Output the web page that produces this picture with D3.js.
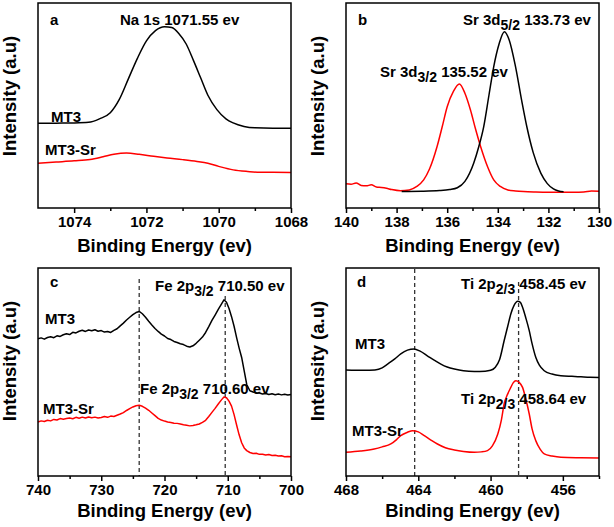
<!DOCTYPE html>
<html><head><meta charset="utf-8">
<script src="https://cdn.jsdelivr.net/npm/d3@7"></script>
<style>
html,body{margin:0;padding:0;background:#fff;}
svg text{font-family:"Liberation Sans",Arial,sans-serif;font-weight:bold;fill:#000;}
</style></head>
<body><svg id="c" width="614" height="527"></svg>
<script>
// ---------- data (binding energy in eV, intensity in arbitrary units 0-100) ----------
const naE_MT3 = [1075,1074.5,1074,1073.6,1073.3,1073.0,1072.75,1072.5,1072.25,1072.0,1071.75,1071.5,1071.3,1071.1,1070.9,1070.7,1070.5,1070.3,1070.05,1069.8,1069.6,1069.3,1069.0,1068.5,1068.0];
const naI_MT3 = [41.3,41.4,41.5,41.8,43.5,46.5,53,63,73,81.5,86.5,88.4,88,85,80,72,63.5,55,48,43.5,41.5,39.8,39.1,38.9,38.9];
const naE_Sr = [1075,1074.5,1074,1073.56,1073.2,1072.9,1072.55,1072.2,1071.8,1071.43,1071.0,1070.6,1070.3,1070.0,1069.6,1069.2,1068.86,1068.5,1068.0];
const naI_Sr = [21.8,22.4,23.0,23.7,25,26.2,26.8,26.2,25.2,24.4,23.6,22.7,21.8,20.3,18.6,17.8,17.4,17.4,17.3];

const srE_52 = [137.8,137.0,136.3,135.9,135.6,135.3,134.95,134.75,134.56,134.35,134.16,133.95,133.74,133.55,133.3,133.05,132.85,132.6,132.3,132.05,131.8,131.6,131.4];
const srI_52 = [8.1,8.2,8.5,9.0,9.9,13,22,30,39.5,55,69,80,86,82,69,52,39.5,27,17,12,9.3,8.3,7.9];
const srE_32 = [140,139.8,139.6,139.4,139.2,139.0,138.8,138.6,138.4,138.2,137.85,137.5,137.2,136.93,136.7,136.4,136.2,136.0,135.75,135.52,135.3,135.08,134.88,134.68,134.4,134.16,133.9,133.6,133.3,132.98,132.5,132.0,131.5,131.0,130.6,130.3,130.0];
const srI_32 = [11.8,11.6,12.2,11.0,10.8,11.3,10.2,10.0,9.6,9.0,8.4,8.8,10.5,13.7,19,30,39.5,49.4,57,60.5,56,47.8,38.5,30,20,13.7,10.5,8.8,8.3,8.0,7.8,7.7,7.7,7.7,7.8,8.3,8.2];

const feE = [740,739.5,739,738.5,738,737.5,737,736.5,736,735.5,735,734.5,734,733.5,733,732.5,732,731.5,731,730.5,730,729.5,729,728.5,728,727.5,727,726.5,726,725.5,725,724.5,724,723.5,723,722.5,722,721.5,721,720.5,720,719.5,719,718.5,718,717.5,717,716.5,716,715.5,715,714.5,714,713.5,713,712.5,712,711.5,711,710.6,710.2,709.8,709.4,709,708.6,708.2,707.8,707.4,707,706.5,706,705.5,705,704.5,704,703.5,703,702.5,702,701.5,701,700.5,700];
const feI_MT3 = [66.0,66.4,65.8,66.6,66.9,66.5,67.4,67.1,67.9,68.4,68.0,69.1,68.8,69.6,70.1,69.5,70.2,69.8,70.3,69.6,69.9,69.2,69.5,69.0,70.0,70.8,72.2,73.5,75.0,76.3,77.6,78.6,79.1,78.0,76.3,74.4,72.6,70.9,69.5,68.2,67.3,66.1,65.6,64.7,64.2,63.6,63.2,62.4,62.0,62.6,63.8,65.3,66.8,69.0,71.8,74.8,77.4,80.1,82.6,84.7,83.5,80.5,76.6,72.0,66.5,61.5,57.0,50.5,44.0,41.0,40.4,40.0,39.9,39.4,39.7,39.2,39.5,39.1,39.4,39.0,39.3,38.9,39.2];
const feI_Sr = [26.0,26.5,26.2,26.8,26.5,27.2,26.9,27.6,27.3,27.6,27.9,27.5,28.2,27.8,28.3,27.9,28.4,28.0,28.3,27.9,28.1,28.6,28.2,28.8,28.6,29.2,29.8,30.5,31.5,32.4,33.2,33.8,34.0,33.5,32.6,31.6,30.3,29.0,27.7,26.9,26.4,26.0,25.7,25.4,25.3,25.0,24.6,24.4,24.1,24.3,24.6,25.0,25.8,26.8,28.6,30.6,32.5,34.6,36.6,38.0,37.6,36.0,33.6,29.5,24.5,19.8,16.0,13.5,12.2,11.3,10.8,10.9,10.4,10.5,10.1,10.3,9.9,10.0,9.6,9.7,9.3,9.4,9.2];

const tiE_MT3 = [468,467,466.4,466,465.7,465.3,464.97,464.6,464.23,463.9,463.5,463.1,462.75,462.4,462.0,461.5,460.9,460.3,460.0,459.75,459.5,459.25,459.05,458.88,458.7,458.5,458.35,458.23,458.05,457.86,457.7,457.5,457.3,457.03,456.6,456.11,455.5,455,454.5,454];
const tiI_MT3 = [51,50.8,51,52,53.8,56.3,58.7,60.5,61.1,60,57.8,55.6,53.8,52.4,51.4,50.6,50.3,50.4,50.8,52.2,56,65,72,77.9,82,84,83.5,81.1,76,69.9,63.5,57.1,53.3,50.6,49,48.2,47.9,47.7,47.5,47.4];
const tiE_Sr = [468,467.2,466.44,466,465.52,465.2,464.97,464.6,464.32,464.0,463.67,463.3,462.94,462.5,462.0,461.5,460.9,460.5,460.17,459.9,459.6,459.4,459.25,459.05,458.88,458.75,458.6,458.42,458.23,458.05,457.86,457.7,457.5,457.25,457.03,456.6,456.11,455,454];
const tiI_Sr = [11.4,12,13,14,15.4,17.5,19.4,21,21.8,21.2,19.4,17.3,15.4,13.6,12.5,11.8,11.4,11.6,12.2,14.5,20.2,27,34.6,39.5,42.6,44.8,45.8,45,42.6,37,29.8,22.5,17,12.8,10.6,9.6,9,8.8,8.7];

const ticksA = [1074,1072,1070,1068], minorA = [1073,1071,1069];
const ticksB = [140,138,136,134,132,130], minorB = [139,137,135,133,131];
const ticksC = [740,730,720,710,700], minorC = [735,725,715,705];
const ticksD = [468,464,460,456], minorD = [466,462,458,454];
const dashC = [724.0, 710.4];
const dashD = [464.2, 458.45];

const zip = (e, v) => e.map((x, i) => ({e: x, v: v[i]}));
const svg = d3.select("#c");
const RED = "#ff0000";

function panel(o) {
  const x = d3.scaleLinear().domain(o.xdom).range([o.x0, o.x1]);
  const y = d3.scaleLinear().domain([0, 100]).range([o.y1, o.y0]);
  const g = svg.append("g");
  (o.dash || []).forEach((d, i) => {
    g.append("line").attr("x1", x(d)).attr("x2", x(d))
      .attr("y1", o.dashTop[i]).attr("y2", o.y1)
      .attr("stroke", "#333").attr("stroke-width", 1.3).attr("stroke-dasharray", "4,3");
  });
  const line = d3.line().x(d => x(d.e)).y(d => y(d.v)).curve(o.curve || d3.curveMonotoneX);
  o.series.forEach(s => {
    g.append("path").datum(s.data).attr("d", line).attr("fill", "none")
      .attr("stroke", s.color).attr("stroke-width", 1.5).attr("stroke-linejoin", "round");
  });
  g.append("rect").attr("x", o.x0).attr("y", o.y0).attr("width", o.x1 - o.x0).attr("height", o.y1 - o.y0)
    .attr("fill", "none").attr("stroke", "#000").attr("stroke-width", 1.5);
  const ax = g.append("g").attr("transform", `translate(0,${o.y1})`)
    .call(d3.axisBottom(x).tickValues(o.ticks).tickSize(5).tickPadding(3).tickFormat(d3.format("d")));
  ax.select(".domain").remove();
  ax.selectAll("line").attr("stroke-width", 1.5);
  ax.selectAll("text").attr("font-size", 15).attr("font-family", '"Liberation Sans",Arial,sans-serif').attr("font-weight", "bold").attr("fill", "#000");
  const mx = g.append("g").attr("transform", `translate(0,${o.y1})`)
    .call(d3.axisBottom(x).tickValues(o.minor).tickSize(3).tickFormat(""));
  mx.select(".domain").remove();
  mx.selectAll("line").attr("stroke-width", 1.5);
  g.append("text").attr("x", (o.x0 + o.x1) / 2).attr("y", o.y1 + o.titleDy).attr("text-anchor", "middle")
    .attr("font-size", 18.5).text("Binding Energy (ev)");
  g.append("text").attr("transform", `translate(${o.x0 - 22},${o.ymid}) rotate(-90)`)
    .attr("text-anchor", "middle").attr("font-size", 18.5).text("Intensity (a.u)");
  o.labels.forEach(l => {
    const t = g.append("text").attr("x", l.x).attr("y", l.y).attr("font-size", l.size || 15);
    l.parts.forEach(p => {
      const ts = t.append("tspan").text(p.t);
      if (p.sub) ts.attr("font-size", 14).attr("dy", 5);
      if (p.up) ts.attr("dy", -5);
    });
  });
}

const L = {x0: 38, x1: 291}, R = {x0: 346, x1: 599};
const T = {y0: 3, y1: 208, ymid: 96, titleDy: 44}, B = {y0: 268, y1: 476, ymid: 361, titleDy: 41};

panel({...L, ...T, xdom: [1075, 1068], ticks: ticksA, minor: minorA,
  series: [{data: zip(naE_MT3, naI_MT3), color: "#000"}, {data: zip(naE_Sr, naI_Sr), color: RED}],
  labels: [
    {x: 50, y: 25, parts: [{t: "a"}]},
    {x: 120, y: 25, parts: [{t: "Na 1s 1071.55 ev"}]},
    {x: 51, y: 122, parts: [{t: "MT3"}]},
    {x: 45, y: 155, parts: [{t: "MT3-Sr"}]}
  ]});

panel({...R, ...T, xdom: [140, 130], ticks: ticksB, minor: minorB,
  series: [{data: zip(srE_32, srI_32), color: RED}, {data: zip(srE_52, srI_52), color: "#000"}],
  labels: [
    {x: 358, y: 25, parts: [{t: "b"}]},
    {x: 463, y: 25, parts: [{t: "Sr 3d"}, {t: "5/2", sub: true}, {t: " 133.73 ev", up: true}]},
    {x: 380, y: 77, parts: [{t: "Sr 3d"}, {t: "3/2", sub: true}, {t: " 135.52 ev", up: true}]}
  ]});

panel({...L, ...B, xdom: [740, 700], ticks: ticksC, minor: minorC, curve: d3.curveLinear,
  dash: dashC, dashTop: [279, 296],
  series: [{data: zip(feE, feI_MT3), color: "#000"}, {data: zip(feE, feI_Sr), color: RED}],
  labels: [
    {x: 50, y: 287, parts: [{t: "c"}]},
    {x: 155, y: 291, parts: [{t: "Fe 2p"}, {t: "3/2", sub: true}, {t: " 710.50 ev", up: true}]},
    {x: 45, y: 324, parts: [{t: "MT3"}]},
    {x: 140, y: 394, parts: [{t: "Fe 2p"}, {t: "3/2", sub: true}, {t: " 710.60 ev", up: true}]},
    {x: 43, y: 414, parts: [{t: "MT3-Sr"}]}
  ]});

panel({...R, ...B, xdom: [468, 454], ticks: ticksD, minor: minorD,
  dash: dashD, dashTop: [269, 282],
  series: [{data: zip(tiE_MT3, tiI_MT3), color: "#000"}, {data: zip(tiE_Sr, tiI_Sr), color: RED}],
  labels: [
    {x: 357, y: 287, parts: [{t: "d"}]},
    {x: 461, y: 289, parts: [{t: "Ti 2p"}, {t: "2/3", sub: true}, {t: " 458.45 ev", up: true}]},
    {x: 355, y: 349, parts: [{t: "MT3"}]},
    {x: 461, y: 404, parts: [{t: "Ti 2p"}, {t: "2/3", sub: true}, {t: " 458.64 ev", up: true}]},
    {x: 352, y: 436, parts: [{t: "MT3-Sr"}]}
  ]});
</script></body></html>
